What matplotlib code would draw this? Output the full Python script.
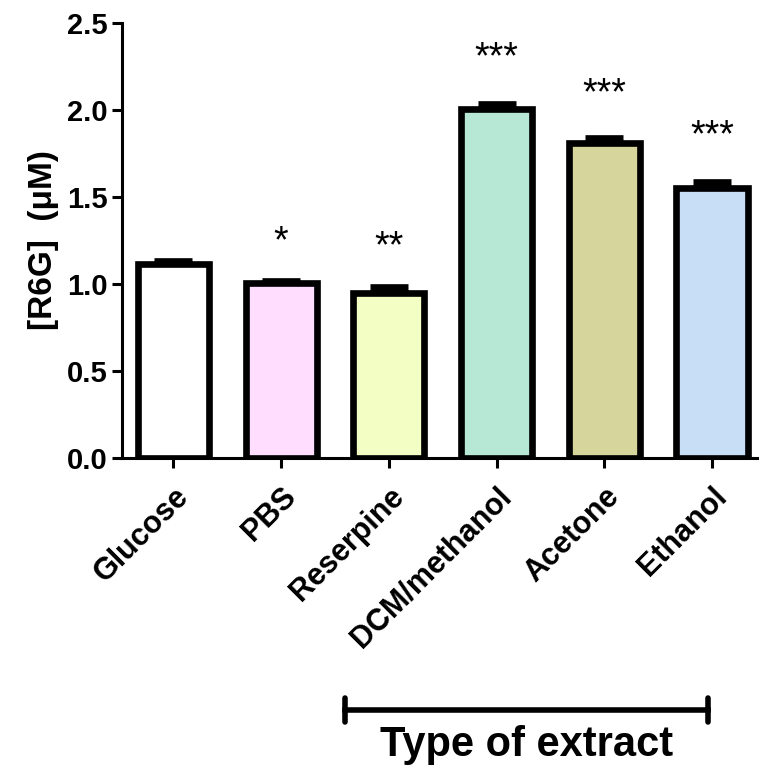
from matplotlib import pyplot as plt
from matplotlib.lines import Line2D
import numpy as np

plt.rcParams['font.family'] = ['Liberation Sans', 'DejaVu Sans']

# data
groups = ["Glucose", "PBS", "Reserpine", "DCM/methanol", "Acetone", "Ethanol"]
means = [1.115, 1.005, 0.95, 2.005, 1.81, 1.55]
sems = [0.02, 0.015, 0.035, 0.03, 0.03, 0.035]
stars = ["", "*", "**", "***", "***", "***"]
star_y = [0, 1.24, 1.21, 2.30, 2.09, 1.85]
colors = ["#FFFFFF", "#FFDDFF", "#F3FEC4", "#B7E8D6", "#D6D59B", "#C8DDF6"]

fig = plt.figure(figsize=(7.61, 7.71), dpi=100)
ax = fig.add_axes([0.160, 0.406, 0.835, 0.564])

x = np.arange(len(groups))
ax.bar(x, means, width=0.66, color=colors, edgecolor="black", linewidth=4.8, zorder=2)
ax.errorbar(x, means, yerr=[np.zeros(len(x)), sems], fmt="none", ecolor="black",
            elinewidth=4, capsize=14, capthick=4.8, zorder=1)

for xi, s, sy in zip(x, stars, star_y):
    if s:
        ax.text(xi, sy, s, ha="center", va="center", fontsize=27)

ax.set_xlim(-0.48, 5.42)
ax.set_ylim(0, 2.5)
ax.set_yticks(np.arange(0, 2.51, 0.5))
ax.set_yticklabels(["%.1f" % v for v in np.arange(0, 2.51, 0.5)],
                   fontsize=21, fontweight="bold")
ax.set_xticks(x)
ax.set_xticklabels(groups, rotation=45, ha="right", rotation_mode="anchor",
                   fontsize=22, fontweight="bold")
ax.tick_params(axis="both", width=2.2, length=7, pad=3)
ax.tick_params(axis="x", pad=10)
for side in ["top", "right"]:
    ax.spines[side].set_visible(False)
for side in ["left", "bottom"]:
    ax.spines[side].set_linewidth(2.2)
ax.set_ylabel("[R6G]  (\u03bcM)", fontsize=24, fontweight="bold", labelpad=6)

# bracket under the extract groups
y0 = 1 - 710 / 771
x0, x1 = 345 / 761, 708 / 761
cap = 12 / 771
fig.add_artist(Line2D([x0, x1], [y0, y0], color="black", lw=4, transform=fig.transFigure))
for xx in (x0, x1):
    fig.add_artist(Line2D([xx, xx], [y0 - cap, y0 + cap], color="black", lw=4,
                          solid_capstyle="round", transform=fig.transFigure))
fig.text((x0 + x1) / 2, 1 - 745 / 771, "Type of extract", ha="center", va="center",
         fontsize=30, fontweight="bold")

fig.savefig("out.png", dpi=100)
